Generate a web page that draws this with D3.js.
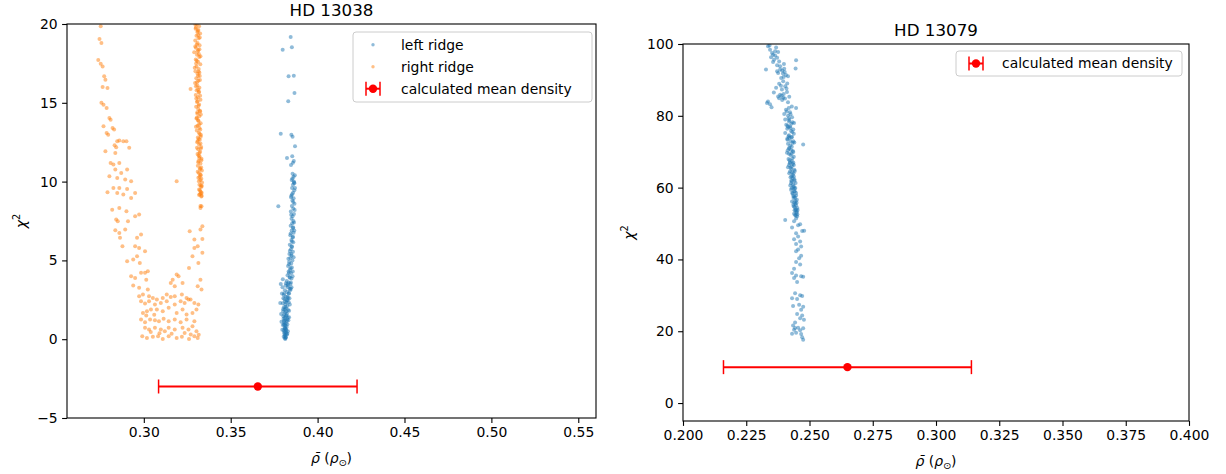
<!DOCTYPE html>
<html>
<head>
<meta charset="utf-8">
<script src="https://cdn.jsdelivr.net/npm/d3@7"></script>
<style>
  body { margin: 0; background: #fff; }
  text { font-family: "DejaVu Sans", sans-serif; }
</style>
</head>
<body>
<div id="chart"></div>
<script>
// ---- HD 13038 : left ridge (blue), [rho, chi2] ----
const leftRidge = [
  [0.3845,19.18],[0.3799,18.37],[0.3852,18.52],[0.3833,16.68],[0.3863,16.72],[0.3867,15.62],[0.3831,15.10],
  [0.3788,13.04],[0.3849,12.98],[0.3856,12.85],[0.3870,12.24],[0.3824,11.50],[0.3854,11.61],[0.3863,11.31],
  [0.3847,11.06],[0.3858,11.20],[0.3774,8.44],[0.3788,3.51],
  [0.3856,10.5],[0.3862,10.3],[0.3851,10.1],[0.3865,9.95],[0.3858,9.8],[0.3853,9.6],[0.3866,9.45],[0.3859,9.3],
  [0.3849,9.1],[0.3862,8.95],[0.3855,8.8],[0.3867,8.6],[0.3852,8.45],[0.3860,8.3],[0.3846,8.1],[0.3864,7.95],
  [0.3856,7.8],[0.3850,7.65],[0.3861,7.5],[0.3854,7.35],[0.3845,7.2],[0.3859,7.05],[0.3851,6.9],[0.3862,6.75],
  [0.3843,6.6],[0.3857,6.45],[0.3849,6.3],[0.3860,6.15],[0.3840,6.0],[0.3853,5.85],[0.3846,5.7],[0.3858,5.55],
  [0.3838,5.4],[0.3850,5.3],[0.3843,5.15],[0.3855,5.0],[0.3836,4.9],[0.3848,4.8],[0.3830,4.65],[0.3852,4.55],
  [0.3841,4.4],[0.3833,4.3],[0.3847,4.2],[0.3827,4.05],[0.3839,3.95],[0.3850,3.85],[0.3822,3.7],[0.3834,3.6],
  [0.3844,3.5],[0.3817,3.4],[0.3829,3.3],[0.3840,3.2],[0.3812,3.1],[0.3825,3.0],[0.3836,2.9],[0.3805,2.8],
  [0.3818,2.7],[0.3830,2.62],[0.3809,2.55],[0.3822,2.45],[0.3834,2.35],[0.3800,2.28],[0.3815,2.2],[0.3826,2.1],
  [0.3806,2.02],[0.3819,1.95],[0.3830,1.85],[0.3802,1.78],[0.3813,1.7],[0.3824,1.62],[0.3808,1.55],[0.3818,1.45],
  [0.3828,1.38],[0.3804,1.3],[0.3814,1.22],[0.3823,1.15],[0.3809,1.08],[0.3818,1.0],[0.3806,0.92],[0.3815,0.85],
  [0.3822,0.78],[0.3810,0.7],[0.3817,0.62],[0.3806,0.55],[0.3813,0.48],[0.3819,0.4],[0.3809,0.33],[0.3815,0.26],
  [0.3811,0.2],[0.3816,0.12],[0.3812,0.06],[0.3814,0.02],
  [0.3803,2.6],[0.3827,2.48],[0.3811,1.9],[0.3821,1.5],[0.3806,1.15],[0.3826,0.95],[0.3812,0.72],[0.3808,0.42],
  [0.3820,1.75],[0.3833,2.9],[0.3818,3.55],[0.3845,4.5],[0.3832,5.1],[0.3858,6.5],[0.3866,9.9],[0.3853,9.2],
  [0.3859,7.1],[0.3851,5.9],[0.3840,3.9],[0.3836,4.75],
  [0.3785,2.3],[0.3790,1.6],[0.3795,2.9],[0.3798,3.3],[0.3792,1.1],[0.3797,0.6],[0.3800,3.8],[0.3836,1.8],
  [0.3838,2.6],[0.3832,1.2],[0.3829,0.5],[0.3842,3.1],[0.3846,3.6],[0.3823,0.3],[0.3805,0.15],[0.3818,0.1],
  [0.3840,5.6],[0.3862,5.2],[0.3835,4.2],[0.3856,4.0],[0.3828,3.5],[0.3850,3.3],[0.3812,2.4],[0.3840,2.2],
  [0.3802,1.9],[0.3836,1.4],[0.3800,0.9],[0.3826,0.35],[0.3848,7.9],[0.3868,8.2],[0.3847,9.0],[0.3870,9.6],
  [0.3855,10.2],[0.3869,10.4],[0.3852,6.2],[0.3866,6.9],[0.3845,6.7],[0.3864,7.4],[0.3860,8.7],[0.3863,10.0],
  [0.3849,5.4],[0.3857,4.3],[0.3846,3.2],[0.3826,2.7],[0.3815,2.05],[0.3825,1.25],[0.3811,1.35],[0.3820,0.55],
  [0.3815,0.68],[0.3810,0.95],[0.3820,2.35],[0.3830,3.4],[0.3808,2.9],[0.3803,1.45]
];

// ---- HD 13038 : right ridge (orange), [rho, chi2] ----
const rightRidge = [
  // wing
  [0.2752,19.85],[0.2745,19.05],[0.2756,18.79],[0.2738,17.72],[0.2752,17.48],[0.2763,17.31],[0.2772,16.68],
  [0.2779,16.47],[0.2763,16.00],[0.2791,15.94],[0.2756,15.00],[0.2768,14.88],[0.2786,14.67],[0.2802,14.04],
  [0.2809,13.93],[0.2768,13.51],[0.2786,13.09],[0.2795,12.98],[0.2820,13.40],[0.2829,13.30],[0.2847,12.56],
  [0.2859,12.60],[0.2882,12.56],[0.2900,12.56],[0.2832,12.30],[0.2841,12.18],[0.2779,11.92],[0.2836,11.82],
  [0.2916,12.14],[0.2809,11.18],[0.2825,11.08],[0.2859,11.18],[0.2836,10.76],[0.2870,10.55],[0.2904,10.76],
  [0.2802,10.34],[0.2847,10.23],[0.2893,10.13],[0.2927,10.02],[0.2825,9.60],[0.2859,9.60],[0.2904,9.53],
  [0.2791,9.32],[0.2847,9.28],[0.2882,9.18],[0.2950,9.28],[0.2927,8.96],[0.2818,8.22],[0.2859,8.33],
  [0.2900,8.12],[0.2950,7.80],[0.2973,7.91],[0.2841,7.59],[0.2850,7.48],[0.2909,7.48],[0.2836,6.91],
  [0.2859,6.74],[0.2893,6.96],[0.2984,6.64],[0.2961,6.43],[0.2863,6.43],[0.2877,5.90],[0.2950,5.90],
  [0.2973,5.79],[0.3007,5.58],[0.2904,4.95],[0.2939,5.05],[0.2961,5.26],[0.2977,4.84],[0.2927,4.00],
  [0.2950,3.89],[0.2984,4.21],[0.3007,4.21],[0.3023,4.31],[0.2939,3.40],[0.2973,3.26],[0.3014,3.78],
  [0.3023,3.15],[0.3189,4.10],[0.3200,4.00],[0.3166,3.78],[0.3155,3.57],[0.3223,3.57],[0.3178,3.36],
  // bottom cluster
  [0.2973,2.73],[0.2995,2.83],[0.3030,2.73],[0.3052,2.62],[0.3075,2.52],[0.3109,2.62],[0.3132,2.83],
  [0.3155,2.68],[0.3178,2.73],[0.3219,2.83],[0.3246,2.62],[0.3269,2.52],[0.2984,2.41],[0.3007,2.26],
  [0.3030,2.41],[0.3064,2.20],[0.3098,2.30],[0.3132,2.41],[0.3178,2.20],[0.3212,2.41],[0.3235,2.30],
  [0.3257,2.52],[0.3291,2.30],[0.3314,2.20],[0.2995,1.67],[0.3018,1.78],[0.3041,1.88],[0.3075,1.88],
  [0.3109,1.78],[0.3143,1.99],[0.3189,1.67],[0.3223,1.88],[0.3246,1.56],[0.3280,1.67],[0.3303,1.88],
  [0.2984,1.25],[0.3007,1.08],[0.3036,1.25],[0.3064,1.21],[0.3087,1.14],[0.3114,1.29],[0.3143,1.14],
  [0.3178,1.25],[0.3212,1.08],[0.3246,1.25],[0.3291,1.14],[0.3007,0.72],[0.3030,0.61],[0.3064,0.72],
  [0.3098,0.61],[0.3121,0.51],[0.3143,0.72],[0.3178,0.61],[0.3223,0.72],[0.3257,0.61],[0.3280,0.82],
  [0.3303,0.51],[0.2991,0.19],[0.3018,0.08],[0.3052,0.15],[0.3082,0.19],[0.3109,0.02],[0.3143,0.19],
  [0.3189,0.08],[0.3219,0.15],[0.3260,0.02],[0.3291,0.19],[0.3310,0.08],[0.3235,0.40],[0.3160,0.35],
  [0.3090,0.38],[0.3040,0.45],[0.3270,0.30],[0.3316,0.28],[0.3014,1.50],[0.3060,1.55],
  // column, sparse lower part
  [0.3332,8.44],[0.3326,8.33],[0.3337,7.17],[0.3326,6.96],[0.3264,6.85],[0.3291,5.79],[0.3310,5.90],
  [0.3337,6.36],[0.3280,5.26],[0.3337,5.48],[0.3260,4.52],[0.3326,3.78],[0.3310,3.36],[0.3332,3.15],
  [0.3291,6.32],[0.3314,4.84],[0.3269,15.88],[0.3189,10.02],
  // column, dense part
  [0.3305,20.0],[0.3318,19.85],[0.3298,19.7],[0.3311,19.55],[0.3324,19.4],[0.3303,19.25],[0.3315,19.1],
  [0.3296,18.95],[0.3309,18.8],[0.3321,18.65],[0.3300,18.5],[0.3313,18.35],[0.3290,18.2],[0.3306,18.05],
  [0.3319,17.9],[0.3299,17.75],[0.3312,17.6],[0.3325,17.45],[0.3303,17.3],[0.3316,17.15],[0.3297,17.0],
  [0.3309,16.85],[0.3322,16.7],[0.3302,16.55],[0.3314,16.4],[0.3295,16.25],[0.3308,16.1],[0.3320,15.95],
  [0.3304,15.8],[0.3316,15.65],[0.3299,15.5],[0.3311,15.35],[0.3326,15.2],[0.3306,15.05],[0.3318,14.9],
  [0.3301,14.75],[0.3313,14.6],[0.3324,14.45],[0.3308,14.3],[0.3319,14.15],[0.3303,14.0],[0.3315,13.85],
  [0.3327,13.7],[0.3309,13.55],[0.3320,13.4],[0.3305,13.25],[0.3317,13.1],[0.3329,12.95],[0.3311,12.8],
  [0.3322,12.65],[0.3307,12.5],[0.3318,12.35],[0.3330,12.2],[0.3313,12.05],[0.3324,11.9],[0.3309,11.75],
  [0.3321,11.6],[0.3332,11.45],[0.3315,11.3],[0.3326,11.15],[0.3311,11.0],[0.3323,10.85],[0.3334,10.7],
  [0.3317,10.55],[0.3328,10.4],[0.3314,10.25],[0.3325,10.1],[0.3335,9.95],[0.3320,9.8],[0.3330,9.65],
  [0.3318,9.5],[0.3327,9.35],[0.3322,9.2],[0.3331,9.05],
  [0.3297,19.95],[0.3313,19.3],[0.3305,18.7],[0.3317,18.1],[0.3301,17.5],[0.3320,16.9],[0.3306,16.3],
  [0.3318,15.7],[0.3309,15.1],[0.3323,14.5],[0.3312,13.9],[0.3325,13.3],[0.3316,12.7],[0.3328,12.1],
  [0.3319,11.5],[0.3330,10.9],[0.3321,10.3],[0.3328,9.75],[0.3333,9.1],[0.3326,8.45],
  [0.3300,19.78],[0.3314,19.62],[0.3322,19.15],[0.3296,18.58],[0.3310,18.27],[0.3326,17.95],[0.3304,17.67],
  [0.3293,17.22],[0.3315,16.98],[0.3323,16.45],[0.3300,16.05],[0.3312,15.85],[0.3324,15.45],[0.3302,15.28],
  [0.3315,14.82],[0.3328,14.25],[0.3305,14.05],[0.3318,13.62],[0.3300,13.48],[0.3322,13.02],[0.3310,12.58],
  [0.3326,12.42],[0.3306,12.15],[0.3320,11.82],[0.3331,11.35],[0.3313,11.22],[0.3324,10.78],[0.3310,10.62],
  [0.3331,10.18],[0.3317,10.02],[0.3334,9.72],[0.3323,9.45],[0.3329,9.25],[0.3318,9.15],[0.3333,9.3],
  [0.3325,10.45],[0.3315,11.65],[0.3327,12.85],[0.3308,14.4],[0.3312,16.7],[0.3320,18.4],[0.3308,19.5]
];

// ---- HD 13079 : single ridge (blue), [rho, chi2] ----
const ridge13079 = [
  [0.2336,99.4],[0.2344,98.4],[0.2352,97.5],[0.2368,99.0],[0.2360,95.6],[0.2356,95.0],[0.2376,97.8],
  [0.2364,96.8],[0.2348,96.3],[0.2372,94.1],[0.2447,95.5],[0.2445,93.2],[0.2328,92.9],[0.2384,93.8],
  [0.2392,92.6],[0.2400,93.1],[0.2376,91.9],[0.2407,91.4],[0.2415,91.0],[0.2388,90.5],[0.2372,92.4],
  [0.2396,89.6],[0.2380,88.9],[0.2404,88.2],[0.2368,87.8],[0.2391,87.3],[0.2411,86.6],[0.2384,85.9],
  [0.2376,85.4],[0.2396,85.0],[0.2420,85.3],[0.2359,86.5],[0.2392,84.4],[0.2336,84.0],[0.2344,83.2],
  [0.2332,83.6],[0.2350,82.4],[0.2415,83.8],[0.2430,82.6],[0.2447,82.2],[0.2407,81.7],[0.2423,81.0],
  [0.2400,80.5],[0.2415,80.0],[0.2431,79.6],[0.2404,79.0],[0.2419,78.4],[0.2439,78.0],[0.2408,77.5],
  [0.2423,77.0],[0.2412,76.4],[0.2427,75.8],[0.2436,76.2],[0.2404,75.2],[0.2419,74.6],[0.2431,74.1],
  [0.2412,73.6],[0.2425,73.0],[0.2440,72.6],[0.2475,72.0],[0.2415,72.2],[0.2430,71.4],[0.2419,70.8],
  [0.2434,70.2],[0.2411,69.7],[0.2425,69.1],[0.2438,68.6],[0.2417,68.0],[0.2430,67.4],[0.2422,66.8],
  [0.2438,66.3],[0.2415,65.7],[0.2428,65.2],[0.2442,64.6],[0.2420,64.0],[0.2434,63.5],[0.2425,62.9],
  [0.2440,62.3],[0.2430,61.7],[0.2445,61.3],[0.2424,60.6],[0.2436,60.0],[0.2427,59.4],[0.2442,58.9],
  [0.2433,58.3],[0.2447,57.8],[0.2437,57.1],[0.2450,56.6],[0.2431,56.1],[0.2444,55.5],[0.2438,54.8],
  [0.2452,54.3],[0.2441,53.7],[0.2448,53.0],[0.2443,52.4],[0.2451,52.0],[0.2447,51.4],
  [0.2418,79.3],[0.2428,77.8],[0.2416,76.9],[0.2432,75.5],[0.2420,73.9],[0.2436,72.9],[0.2424,71.7],
  [0.2414,70.4],[0.2429,69.4],[0.2421,67.6],[0.2434,66.6],[0.2425,65.5],[0.2431,64.3],[0.2438,63.1],
  [0.2428,62.0],[0.2435,60.9],[0.2441,59.7],[0.2432,58.6],[0.2440,57.5],[0.2445,56.3],[0.2436,55.2],
  [0.2446,54.0],[0.2450,53.3],[0.2439,52.7],
  [0.2420,78.8],[0.2433,78.2],[0.2413,77.2],[0.2425,76.6],[0.2438,75.0],[0.2417,74.3],[0.2428,74.0],
  [0.2413,73.3],[0.2433,72.4],[0.2420,71.1],[0.2427,70.5],[0.2436,69.9],[0.2419,69.4],[0.2432,68.2],
  [0.2423,67.1],[0.2436,67.0],[0.2419,66.2],[0.2430,65.9],[0.2440,65.0],[0.2423,64.5],[0.2437,64.0],
  [0.2429,63.2],[0.2433,62.6],[0.2441,61.9],[0.2427,61.2],[0.2438,60.4],[0.2444,59.9],[0.2430,59.8],
  [0.2439,59.0],[0.2447,58.5],[0.2436,57.7],[0.2443,57.2],[0.2449,55.8],[0.2440,55.9],[0.2447,55.1],
  [0.2441,54.5],[0.2453,53.8],[0.2445,53.6],[0.2452,52.6],[0.2446,52.2],
  [0.2395,91.8],[0.2402,92.2],[0.2384,92.9],[0.2398,90.8],[0.2390,85.6],[0.2398,86.1],[0.2403,84.8],
  [0.2380,84.9],[0.2409,87.6],[0.2387,88.4],[0.2412,89.0],[0.2399,94.4],[0.2364,98.0],[0.2356,97.0],
  [0.2372,96.2],[0.2380,95.1],[0.2342,99.6],[0.2410,81.2],[0.2418,82.2],[0.2425,80.4],
  [0.2404,51.0],[0.2439,50.6],[0.2463,49.8],[0.2455,49.5],[0.2431,48.9],[0.2471,47.9],[0.2479,48.0],
  [0.2447,47.3],[0.2455,46.4],[0.2439,45.6],[0.2463,45.0],[0.2447,44.3],[0.2467,43.6],[0.2455,42.8],
  [0.2447,42.3],[0.2467,41.0],[0.2459,40.3],[0.2447,39.3],[0.2463,38.6],[0.2439,37.4],[0.2431,36.2],
  [0.2447,35.5],[0.2467,35.3],[0.2475,35.2],[0.2439,34.8],[0.2451,33.7],[0.2443,30.6],[0.2463,30.0],
  [0.2471,29.8],[0.2431,29.2],[0.2451,29.0],[0.2435,27.0],[0.2459,27.4],[0.2475,26.8],[0.2467,26.0],
  [0.2451,24.8],[0.2471,24.4],[0.2463,23.6],[0.2478,23.2],[0.2443,22.4],[0.2435,21.6],[0.2455,21.0],
  [0.2439,20.4],[0.2463,20.3],[0.2475,20.8],[0.2447,19.6],[0.2467,19.2],[0.2471,18.3],[0.2475,17.6],
  [0.2431,19.3],[0.2443,20.9]
];

// calculated mean density per star: [HD 13038, HD 13079]
const starNames = ["HD 13038", "HD 13079"];
const meanDensity = [0.3656, 0.265];
const meanDensityErr = [0.0571, 0.049];
const meanPlotY = [-3, 10];

// ticks
const xTicksLeft = [0.30, 0.35, 0.40, 0.45, 0.50, 0.55];
const yTicksLeft = [-5, 0, 5, 10, 15, 20];
const xTicksRight = [0.200, 0.225, 0.250, 0.275, 0.300, 0.325, 0.350, 0.375, 0.400];
const yTicksRight = [0, 20, 40, 60, 80, 100];

const blue = "#1f77b4", orange = "#ff7f0e", red = "#ff0000";
const fs = 13.9;

const svg = d3.select("#chart").append("svg")
  .attr("width", 1226).attr("height", 474);

function drawPanel(p) {
  const x = d3.scaleLinear().domain(p.xDomain).range([p.left, p.right]);
  const y = d3.scaleLinear().domain(p.yDomain).range([p.bottom, p.top]);
  const g = svg.append("g");

  svg.append("clipPath").attr("id", "clip" + p.id)
    .append("rect")
    .attr("x", p.left).attr("y", p.top)
    .attr("width", p.right - p.left).attr("height", p.bottom - p.top);

  // scatter points
  p.series.forEach(function(s) {
    g.append("g").attr("clip-path", "url(#clip" + p.id + ")")
      .selectAll("circle").data(s.data).join("circle")
      .attr("cx", d => x(d[0]))
      .attr("cy", d => y(d[1]))
      .attr("r", 2.0)
      .attr("fill", s.color)
      .attr("fill-opacity", 0.5);
  });

  // mean density with error bar
  const m = meanDensity[p.idx], e = meanDensityErr[p.idx], my = meanPlotY[p.idx];
  const eb = g.append("g");
  eb.append("line").attr("x1", x(m - e)).attr("x2", x(m + e))
    .attr("y1", y(my)).attr("y2", y(my)).attr("stroke", red).attr("stroke-width", 2);
  [m - e, m + e].forEach(function(v) {
    eb.append("line").attr("x1", x(v)).attr("x2", x(v))
      .attr("y1", y(my) - 7).attr("y2", y(my) + 7).attr("stroke", red).attr("stroke-width", 1.5);
  });
  eb.append("circle").attr("cx", x(m)).attr("cy", y(my)).attr("r", 4.2).attr("fill", red);

  // axes
  const xAxis = g.append("g").attr("transform", "translate(0," + p.bottom + ")")
    .call(d3.axisBottom(x).tickValues(p.xTicks).tickFormat(d3.format(p.xFmt))
      .tickSize(4.9).tickPadding(4.5).tickSizeOuter(0));
  const yAxis = g.append("g").attr("transform", "translate(" + p.left + ",0)")
    .call(d3.axisLeft(y).tickValues(p.yTicks).tickFormat(d3.format("d"))
      .tickSize(4.9).tickPadding(4.5).tickSizeOuter(0));
  [xAxis, yAxis].forEach(function(a) {
    a.attr("font-size", fs).attr("font-family", "DejaVu Sans");
    a.select(".domain").remove();
    a.selectAll(".tick line").attr("stroke", "#000").attr("stroke-width", 1.1);
    a.selectAll(".tick text").attr("fill", "#000");
  });

  // frame
  g.append("rect").attr("x", p.left).attr("y", p.top)
    .attr("width", p.right - p.left).attr("height", p.bottom - p.top)
    .attr("fill", "none").attr("stroke", "#000").attr("stroke-width", 1.1);

  // title
  g.append("text").attr("x", (p.left + p.right) / 2).attr("y", p.top - 8.5)
    .attr("text-anchor", "middle").attr("font-size", 16.7).text(starNames[p.idx]);

  // x label: rho bar (rho_sun)
  const xl = g.append("text").attr("x", (p.left + p.right) / 2).attr("y", p.bottom + 45)
    .attr("text-anchor", "middle").attr("font-size", fs);
  xl.append("tspan").attr("font-style", "italic").text("ρ\u0304");
  xl.append("tspan").text(" (");
  xl.append("tspan").attr("font-style", "italic").text("ρ");
  xl.append("tspan").attr("font-size", fs * 0.7).attr("dy", 3).text("⊙");
  xl.append("tspan").attr("dy", -3).text(")");

  // y label: chi^2
  const yl = g.append("text")
    .attr("transform", "translate(" + p.ylabelX + "," + (p.top + p.bottom) / 2 + ") rotate(-90)")
    .attr("text-anchor", "middle").attr("font-size", fs);
  yl.append("tspan").attr("font-style", "italic").text("χ");
  yl.append("tspan").attr("font-size", fs * 0.7).attr("dy", -6).text("2");

  // legend
  const L = p.legend;
  const lg = g.append("g");
  lg.append("rect").attr("x", L.x).attr("y", L.y).attr("width", L.w).attr("height", L.h)
    .attr("rx", 3).attr("fill", "#fff").attr("fill-opacity", 0.8)
    .attr("stroke", "#cccccc").attr("stroke-width", 1);
  L.items.forEach(function(it, i) {
    const cy = L.y + L.first + i * L.step;
    if (it.type === "dot") {
      lg.append("circle").attr("cx", L.mx).attr("cy", cy).attr("r", 1.7)
        .attr("fill", it.color).attr("fill-opacity", 0.5);
    } else {
      lg.append("line").attr("x1", L.mx - 7).attr("x2", L.mx + 7).attr("y1", cy).attr("y2", cy)
        .attr("stroke", red).attr("stroke-width", 2);
      [L.mx - 7, L.mx + 7].forEach(function(cx) {
        lg.append("line").attr("x1", cx).attr("x2", cx).attr("y1", cy - 7).attr("y2", cy + 7)
          .attr("stroke", red).attr("stroke-width", 1.5);
      });
      lg.append("circle").attr("cx", L.mx).attr("cy", cy).attr("r", 4.2).attr("fill", red);
    }
    lg.append("text").attr("x", L.tx).attr("y", cy).attr("dy", "0.35em")
      .attr("font-size", fs).text(it.label);
  });
}

drawPanel({
  id: "L", idx: 0,
  left: 67, right: 596, top: 24, bottom: 418,
  xDomain: [0.2558, 0.5602], yDomain: [-5, 20],
  xTicks: xTicksLeft, yTicks: yTicksLeft, xFmt: ".2f",
  ylabelX: 26,
  series: [{ data: leftRidge, color: blue }, { data: rightRidge, color: orange }],
  legend: {
    x: 353, y: 32, w: 239, h: 70, first: 12.7, step: 22, mx: 373, tx: 401,
    items: [
      { type: "dot", color: blue, label: "left ridge" },
      { type: "dot", color: orange, label: "right ridge" },
      { type: "err", label: "calculated mean density" }
    ]
  }
});

drawPanel({
  id: "R", idx: 1,
  left: 683, right: 1189, top: 44, bottom: 421,
  xDomain: [0.2, 0.4], yDomain: [-5, 100],
  xTicks: xTicksRight, yTicks: yTicksRight, xFmt: ".3f",
  ylabelX: 634,
  series: [{ data: ridge13079, color: blue }],
  legend: {
    x: 956, y: 51, w: 226, h: 25, first: 12.5, step: 22, mx: 976, tx: 1002,
    items: [{ type: "err", label: "calculated mean density" }]
  }
});
</script>
</body>
</html>
